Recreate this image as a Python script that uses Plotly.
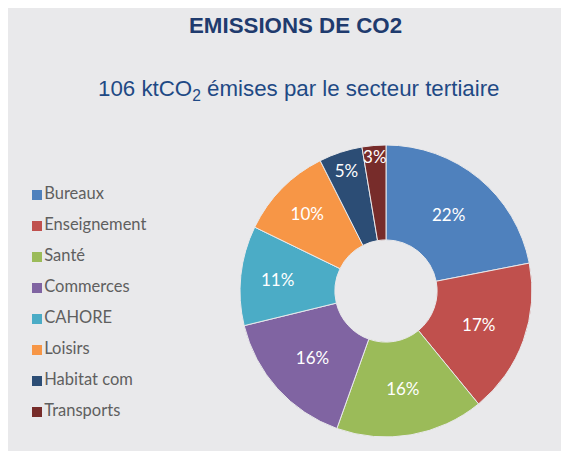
"""Donut chart: CO2 emissions of the tertiary sector."""

import plotly.graph_objects as go

W, H = 569, 451
# the html page adds an 8px body margin, so layout positions are shifted by it
OFF = 8

sectors = [
    "Bureaux",
    "Enseignement",
    "Santé",
    "Commerces",
    "CAHORE",
    "Loisirs",
    "Habitat com",
    "Transports",
]
emissions_kt = [23.3, 18.2, 17.4, 16.7, 11.7, 11.0, 5.1, 2.8]
sector_colors = [
    "#4F81BD",
    "#C0504D",
    "#9BBB59",
    "#8064A2",
    "#4BACC6",
    "#F79646",
    "#2C4D75",
    "#772C2A",
]

PANEL = "#E9E9EB"
TEXT_FONT = "Lato, Open Sans, sans-serif"
TITLE_FONT = "Liberation Sans, Arial, sans-serif"

fig = go.Figure()

cx, cy, r = 386 - OFF, 291 - OFF, 146
fig.add_trace(
    go.Pie(
        labels=sectors,
        values=emissions_kt,
        sort=False,
        direction="clockwise",
        rotation=0,
        hole=0.35,
        marker=dict(colors=sector_colors, line=dict(color=PANEL, width=1)),
        texttemplate="%{percent:.0%}",
        textposition="inside",
        insidetextorientation="horizontal",
        textfont=dict(family=TEXT_FONT, size=17, color="#FFFFFF"),
        domain=dict(
            x=[(cx - r) / W, (cx + r) / W],
            y=[(H - cy - r) / H, (H - cy + r) / H],
        ),
        showlegend=False,
        hoverinfo="label+percent",
    )
)

# legend drawn as a column of square markers
fig.add_trace(
    go.Scatter(
        x=[0] * len(sectors),
        y=sectors,
        mode="markers+text",
        marker=dict(symbol="square", size=10, color=sector_colors),
        text=sectors,
        textposition="middle right",
        textfont=dict(family=TEXT_FONT, size=16.5, color="#5F5F5F"),
        showlegend=False,
        hoverinfo="skip",
        cliponaxis=False,
    )
)

leg_w = 0.4 * W
leg_x = 37 - OFF
leg_top, leg_bot = 179.5 - OFF, 427.5 - OFF

fig.update_layout(
    width=W,
    height=H,
    margin=dict(l=0, r=0, t=0, b=0),
    paper_bgcolor=PANEL,
    plot_bgcolor="rgba(0,0,0,0)",
    uniformtext=dict(minsize=17, mode="show"),
    xaxis=dict(
        domain=[0, 0.4],
        range=[-leg_x / leg_w, 1 - leg_x / leg_w],
        visible=False,
        fixedrange=True,
    ),
    yaxis=dict(
        domain=[(H - leg_bot) / H, (H - leg_top) / H],
        type="category",
        categoryorder="array",
        categoryarray=sectors,
        range=[len(sectors) - 0.5, -0.5],
        visible=False,
        fixedrange=True,
    ),
    annotations=[
        dict(
            text="<b>EMISSIONS DE CO2</b>",
            xref="paper",
            yref="paper",
            x=(295 - OFF) / W,
            y=1 - (25 - OFF) / H,
            xanchor="center",
            yanchor="middle",
            showarrow=False,
            font=dict(family=TITLE_FONT, size=22.3, color="#1F3B6E"),
        ),
        dict(
            text="106 ktCO<sub>2</sub> émises par le secteur tertiaire",
            xref="paper",
            yref="paper",
            x=(299 - OFF) / W,
            y=1 - (90 - OFF) / H,
            xanchor="center",
            yanchor="middle",
            showarrow=False,
            font=dict(family=TITLE_FONT, size=22.3, color="#1F4A85"),
        ),
    ],
)

fig.write_html("out.html")
